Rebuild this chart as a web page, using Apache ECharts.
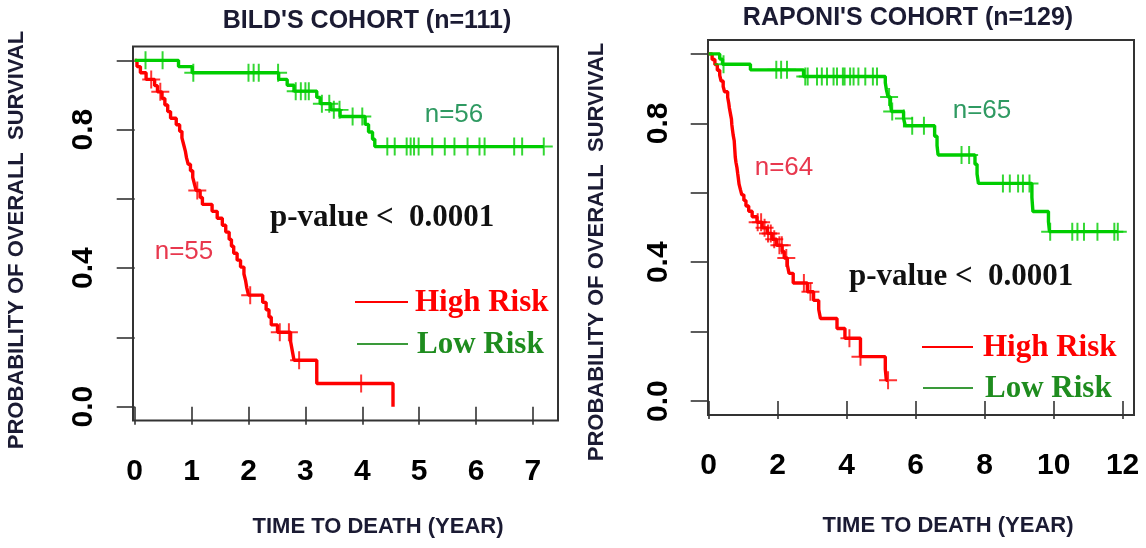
<!DOCTYPE html>
<html>
<head>
<meta charset="utf-8">
<script src="https://cdn.jsdelivr.net/npm/echarts@6/dist/echarts.min.js"></script>
<style>
  html, body { margin: 0; padding: 0; background: #fff; }
  #chart { width: 1146px; height: 548px; }
</style>
</head>
<body>
<div id="chart"></div>
<script>
// Kaplan-Meier curves: event times (years) and survival after each event, plus censoring times.

// Bild's cohort, high risk (n=55)
const bildHighTimes = [0.04, 0.10, 0.20, 0.35, 0.40, 0.48, 0.53, 0.58, 0.63, 0.73, 0.79, 0.83, 0.86, 0.89, 0.91, 0.94, 0.98, 1.02, 1.05, 1.08, 1.15, 1.19, 1.36, 1.45, 1.54, 1.60, 1.66, 1.70, 1.74, 1.80, 1.86, 1.92, 1.95, 1.97, 2.00, 2.25, 2.31, 2.36, 2.40, 2.51, 2.74, 2.77, 2.80, 3.20, 4.54];
const bildHighSurv  = [0.982, 0.964, 0.945, 0.927, 0.909, 0.890, 0.871, 0.852, 0.833, 0.814, 0.795, 0.776, 0.757, 0.738, 0.719, 0.700, 0.681, 0.662, 0.643, 0.624, 0.604, 0.584, 0.564, 0.544, 0.524, 0.504, 0.483, 0.463, 0.443, 0.423, 0.403, 0.383, 0.363, 0.343, 0.322, 0.301, 0.280, 0.259, 0.236, 0.215, 0.188, 0.161, 0.134, 0.067, 0.0];
const bildHighCensor = [0.29, 0.45, 1.10, 2.03, 2.55, 2.71, 2.89, 3.98];

// Bild's cohort, low risk (n=56)
const bildLowTimes = [0.77, 1.01, 2.53, 2.68, 2.80, 3.20, 3.26, 3.45, 3.61, 4.05, 4.11, 4.18, 4.22];
const bildLowSurv  = [0.982, 0.964, 0.945, 0.928, 0.911, 0.893, 0.875, 0.857, 0.838, 0.815, 0.793, 0.772, 0.751];
const bildLowCensor = [0.19, 0.49, 1.03, 2.00, 2.09, 2.18, 2.52, 2.83, 2.92, 3.00, 3.06, 3.29, 3.42, 3.50, 3.60, 3.83, 4.00, 4.44, 4.57, 4.78, 4.85, 4.91, 4.99, 5.23, 5.45, 5.62, 5.85, 6.06, 6.15, 6.67, 6.81, 7.19];

// Raponi's cohort, high risk (n=64)
const raponiHighTimes = [0.10, 0.18, 0.25, 0.32, 0.36, 0.42, 0.46, 0.55, 0.58, 0.60, 0.63, 0.66, 0.67, 0.69, 0.71, 0.74, 0.75, 0.76, 0.77, 0.79, 0.82, 0.84, 0.86, 0.88, 0.92, 0.96, 1.02, 1.08, 1.16, 1.26, 1.40, 1.55, 1.70, 1.84, 1.97, 2.13, 2.19, 2.28, 2.33, 2.45, 2.86, 3.04, 3.19, 3.24, 3.72, 3.95, 4.40, 5.12, 5.15];
const raponiHighSurv  = [0.984, 0.969, 0.953, 0.938, 0.922, 0.906, 0.891, 0.875, 0.859, 0.844, 0.828, 0.812, 0.797, 0.781, 0.766, 0.750, 0.734, 0.719, 0.703, 0.688, 0.672, 0.656, 0.641, 0.625, 0.609, 0.594, 0.578, 0.562, 0.547, 0.531, 0.515, 0.499, 0.483, 0.466, 0.449, 0.431, 0.412, 0.392, 0.368, 0.340, 0.315, 0.290, 0.264, 0.238, 0.209, 0.181, 0.128, 0.092, 0.060];
const raponiHighCensor = [1.42, 1.52, 1.62, 1.72, 1.80, 1.90, 2.05, 2.12, 2.25, 2.76, 2.95, 4.08, 4.40, 5.20];

// Raponi's cohort, low risk (n=65)
const raponiLowTimes = [0.32, 0.40, 1.21, 2.75, 5.12, 5.15, 5.20, 5.27, 5.30, 5.65, 5.70, 6.55, 6.62, 6.65, 7.72, 7.78, 7.82, 9.37, 9.40, 9.85, 9.88];
const raponiLowSurv  = [0.985, 0.970, 0.954, 0.935, 0.917, 0.898, 0.876, 0.855, 0.834, 0.814, 0.793, 0.763, 0.736, 0.709, 0.682, 0.654, 0.627, 0.587, 0.546, 0.517, 0.488];
const raponiLowCensor = [0.43, 1.96, 2.10, 2.27, 2.80, 2.87, 3.14, 3.28, 3.43, 3.62, 3.72, 3.89, 3.94, 4.10, 4.20, 4.34, 4.54, 4.76, 4.88, 5.23, 5.32, 5.66, 5.90, 6.24, 7.33, 7.55, 8.53, 8.73, 8.97, 9.11, 9.30, 9.90, 10.54, 10.69, 10.88, 11.27, 11.76, 11.86];

// Axis ticks and labels
const survTicks = [0, 0.2, 0.4, 0.6, 0.8, 1.0];
const survLabels = [0, 0.4, 0.8];
const bildYearTicks = [0, 1, 2, 3, 4, 5, 6, 7];
const raponiYearTicks = [0, 2, 4, 6, 8, 10, 12];

const RED = '#ff0000';
const GREEN = '#00cd00';
const INK = '#1b1b33';

function survAt(times, surv, t) {
  let s = 1;
  for (let i = 0; i < times.length; i++) if (times[i] <= t) s = surv[i];
  return s;
}
function curvePoints(times, surv, censor) {
  const pts = [[0, 1]];
  times.forEach((t, i) => pts.push([t, surv[i]]));
  const end = Math.max(times[times.length - 1], censor[censor.length - 1]);
  if (end > times[times.length - 1]) pts.push([end, surv[surv.length - 1]]);
  return pts;
}
function censorPoints(times, surv, censor) {
  return censor.map(t => [t, survAt(times, surv, t)]);
}

const plus = 'path://M-1,-0.11H1V0.11H-1Z M-0.11,-1H0.11V1H-0.11Z';

function kmSeries(idx, times, surv, censor, color) {
  return [
    { type: 'line', xAxisIndex: idx, yAxisIndex: idx, step: 'end', showSymbol: false, silent: true,
      data: curvePoints(times, surv, censor), lineStyle: { color: color, width: 3.4 }, z: 3 },
    { type: 'scatter', xAxisIndex: idx, yAxisIndex: idx, symbol: plus, symbolSize: 18, silent: true,
      data: censorPoints(times, surv, censor), itemStyle: { color: color }, z: 4 }
  ];
}

function yAxis(idx) {
  return {
    type: 'value', gridIndex: idx, min: -0.04, max: 1.04,
    axisLine: { show: false }, splitLine: { show: false },
    axisTick: { show: true, length: 18, customValues: survTicks, lineStyle: { color: '#333', width: 1.6 } },
    axisLabel: { customValues: survLabels, rotate: 90, margin: 34,
      formatter: v => v.toFixed(1),
      fontFamily: 'Liberation Sans', fontWeight: 'bold', fontSize: 30, color: '#000' }
  };
}
function xAxis(idx, min, max, ticks) {
  return {
    type: 'value', gridIndex: idx, min: min, max: max,
    axisLine: { show: false }, splitLine: { show: false },
    axisTick: { show: true, length: 18, customValues: ticks, lineStyle: { color: '#333', width: 1.6 } },
    axisLabel: { customValues: ticks, margin: 36, showMinLabel: true, showMaxLabel: true,
      fontFamily: 'Liberation Sans', fontWeight: 'bold', fontSize: 30, color: '#000' }
  };
}

function txt(text, x, y, opts) {
  return Object.assign({ type: 'text', x: x, y: y, silent: true,
    style: Object.assign({ text: text, align: 'center', verticalAlign: 'middle',
      fontFamily: 'Liberation Sans', fontWeight: 'bold', fontSize: 22, fill: INK }, opts.style || {}) },
    opts.rotation ? { rotation: opts.rotation } : {});
}
function legendLine(x1, x2, y, color) {
  return { type: 'line', silent: true, shape: { x1: x1, y1: y, x2: x2, y2: y },
    style: { stroke: color, lineWidth: 2 } };
}
const serifBold = { fontFamily: 'Liberation Serif', fontWeight: 'bold', fontSize: 31, align: 'left' };

const chart = echarts.init(document.getElementById('chart'));
chart.setOption({
  animation: false,
  backgroundColor: '#fff',
  grid: [
    { left: 133, top: 46.5, width: 425, height: 374, show: true, borderColor: '#333', borderWidth: 2, backgroundColor: 'transparent' },
    { left: 708, top: 40, width: 426, height: 375, show: true, borderColor: '#333', borderWidth: 2, backgroundColor: 'transparent' }
  ],
  xAxis: [xAxis(0, -0.03, 7.44, bildYearTicks), xAxis(1, -0.02, 12.33, raponiYearTicks)],
  yAxis: [yAxis(0), yAxis(1)],
  series: [].concat(
    kmSeries(0, bildHighTimes, bildHighSurv, bildHighCensor, RED),
    kmSeries(0, bildLowTimes, bildLowSurv, bildLowCensor, GREEN),
    kmSeries(1, raponiHighTimes, raponiHighSurv, raponiHighCensor, RED),
    kmSeries(1, raponiLowTimes, raponiLowSurv, raponiLowCensor, GREEN)
  ),
  graphic: [
    // titles
    txt("BILD'S COHORT (n=111)", 367, 21, { style: { fontSize: 25 } }),
    txt("RAPONI'S COHORT (n=129)", 908, 18, { style: { fontSize: 25 } }),
    // axis titles
    txt('PROBABILITY OF OVERALL  SURVIVAL', 17, 240, { rotation: Math.PI / 2, style: { fontSize: 22 } }),
    txt('PROBABILITY OF OVERALL  SURVIVAL', 597, 252, { rotation: Math.PI / 2, style: { fontSize: 22 } }),
    txt('TIME TO DEATH (YEAR)', 378, 527, { style: { fontSize: 22 } }),
    txt('TIME TO DEATH (YEAR)', 948, 526, { style: { fontSize: 22 } }),
    // group sizes
    txt('n=56', 454, 115, { style: { fontWeight: 'normal', fontSize: 26, fill: '#2f9a62' } }),
    txt('n=55', 184, 252, { style: { fontWeight: 'normal', fontSize: 26, fill: '#e8384e' } }),
    txt('n=65', 982, 111, { style: { fontWeight: 'normal', fontSize: 26, fill: '#2f9a62' } }),
    txt('n=64', 784, 168, { style: { fontWeight: 'normal', fontSize: 26, fill: '#e8384e' } }),
    // log-rank p-values
    txt('p-value <  0.0001', 270, 218, { style: Object.assign({}, serifBold, { fill: '#111', fontSize: 31 }) }),
    txt('p-value <  0.0001', 849, 277, { style: Object.assign({}, serifBold, { fill: '#111', fontSize: 31 }) }),
    // legends
    legendLine(355, 408, 302, RED),
    legendLine(357, 408, 344, '#3a9a3a'),
    txt('High Risk', 415, 303, { style: Object.assign({}, serifBold, { fill: RED }) }),
    txt('Low Risk', 417, 345, { style: Object.assign({}, serifBold, { fill: '#1e8c1e' }) }),
    legendLine(922, 973, 347, RED),
    legendLine(923, 973, 388, '#3a9a3a'),
    txt('High Risk', 983, 348, { style: Object.assign({}, serifBold, { fill: RED }) }),
    txt('Low Risk', 985, 389, { style: Object.assign({}, serifBold, { fill: '#1e8c1e' }) })
  ]
});
</script>
</body>
</html>
